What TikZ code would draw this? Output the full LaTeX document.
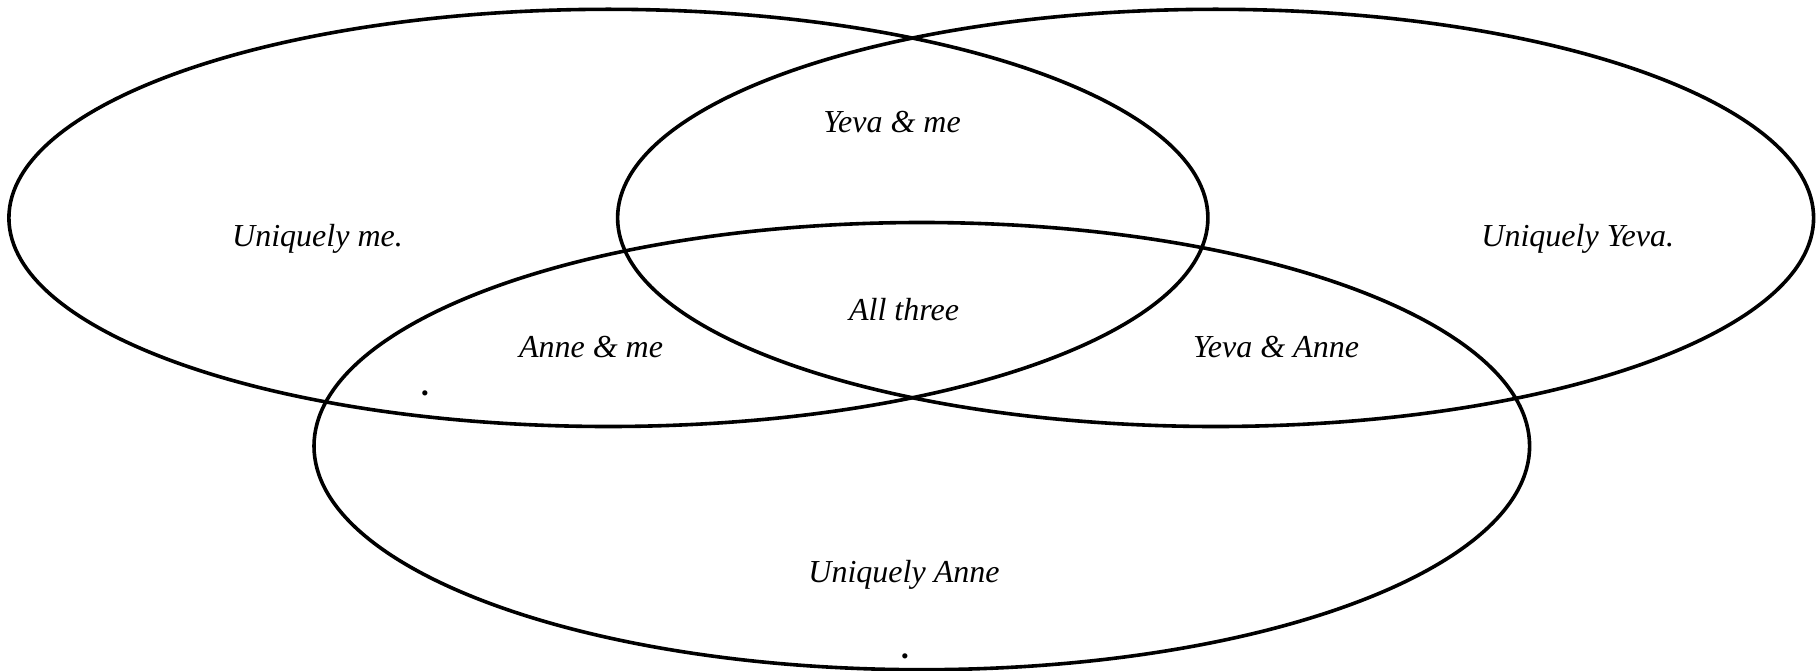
\documentclass[tikz,border=0pt]{standalone}
\usepackage{fontspec}
\setmainfont{Liberation Serif}
\begin{document}
\begin{tikzpicture}[x=1pt,y=-1pt,
  ring/.style={draw=black,line width=3.6pt},
  lbl/.style={anchor=base,inner sep=0pt,font=\fontsize{32}{38}\selectfont\itshape}]
\useasboundingbox (0,0) rectangle (1817,671);
\draw[ring] (608.4,217.9) ellipse [x radius=599.5, y radius=208.6];
\draw[ring] (1215.6,217.9) ellipse [x radius=598, y radius=208.6];
\draw[ring] (921.8,446.1) ellipse [x radius=607.8, y radius=223.6];
\node[lbl] (me) at (317.5,246) {Uniquely me.};
\node[lbl] (yeva) at (1577.7,246) {Uniquely Yeva.};
\node[lbl] (yme) at (892,132.7) {Yeva \& me};
\node[lbl] (all) at (904,320) {All three};
\node[lbl] (ame) at (591,357.7) {Anne \& me};
\node[lbl] (yanne) at (1276,357.7) {Yeva \& Anne};
\node[lbl] (anne) at (904,582.7) {Uniquely Anne};
\node[lbl] (dot1) at (426,395) {\textbf{.}};
\node[lbl] (dot2) at (906,658) {\textbf{.}};
\end{tikzpicture}
\end{document}
